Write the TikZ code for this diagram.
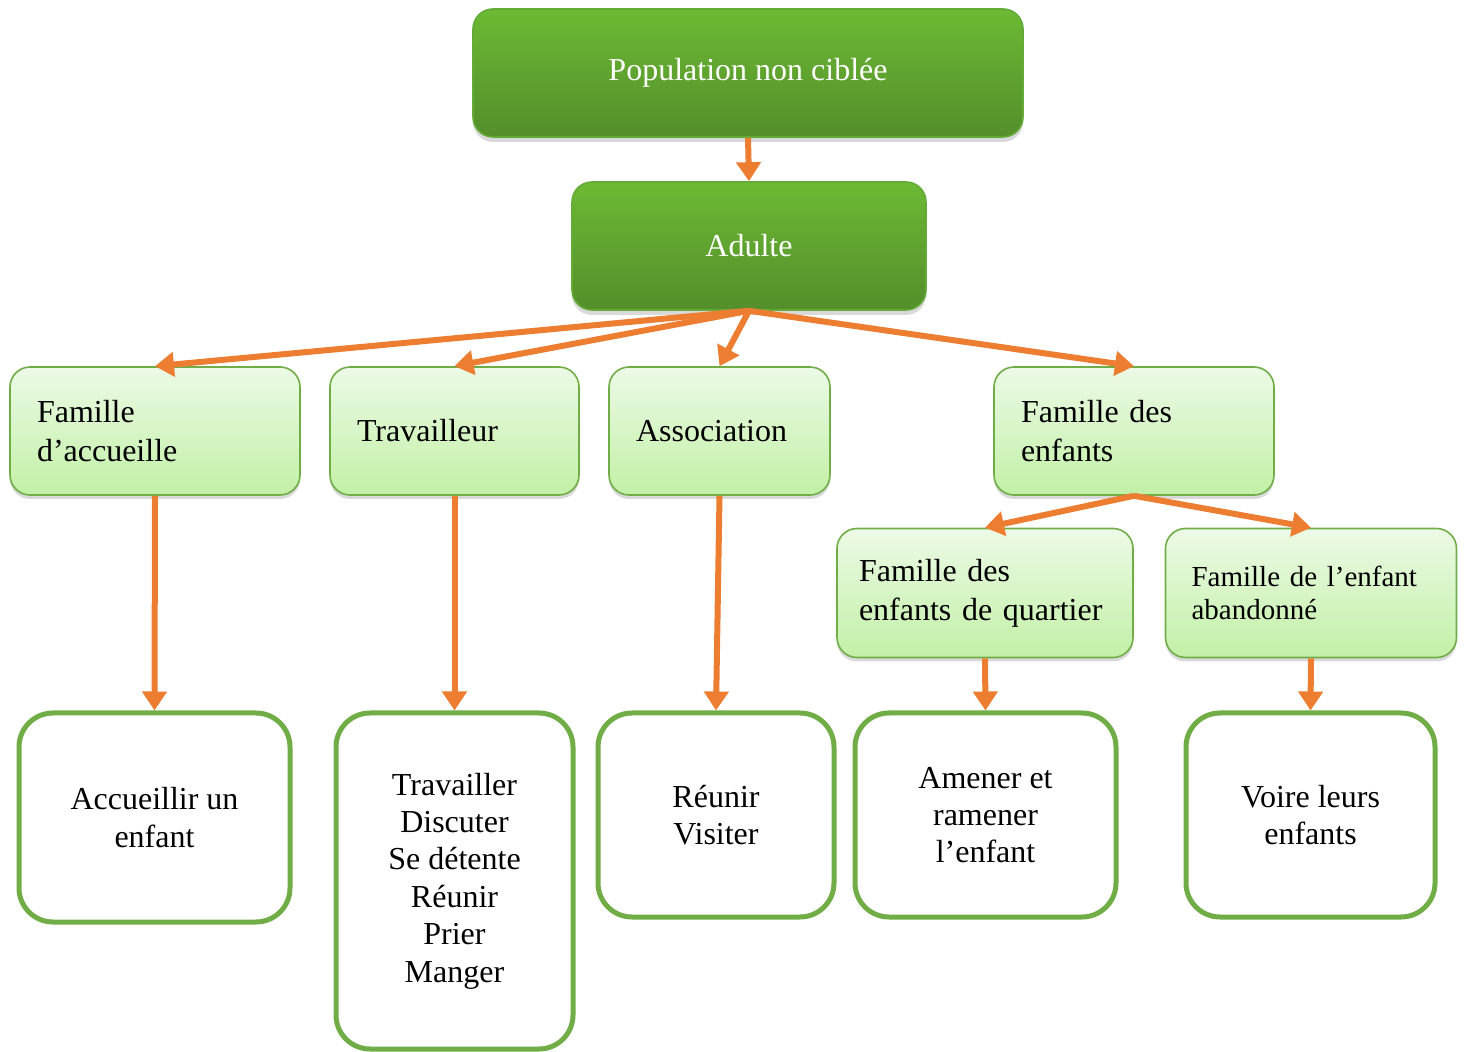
\documentclass[tikz,border=0pt]{standalone}
\usepackage{fontspec}
\setmainfont{Liberation Serif}
\usetikzlibrary{arrows.meta,shadows}

\definecolor{grtop}{RGB}{108,186,52}
\definecolor{grbot}{RGB}{84,142,43}
\definecolor{grline}{RGB}{100,170,55}
\definecolor{lttop}{RGB}{236,250,230}
\definecolor{ltbot}{RGB}{194,240,166}
\definecolor{ltline}{RGB}{112,173,71}
\definecolor{arrorange}{RGB}{237,125,49}

\begin{document}
\begin{tikzpicture}[x=0.5pt,y=-0.5pt,
  darkbox/.style={rounded corners=10pt, draw=grline, line width=0.8pt,
    top color=grtop, bottom color=grbot, text=white,
    font=\fontsize{16}{19}\selectfont, minimum height=64pt,
    drop shadow={opacity=0.3, shadow xshift=0pt, shadow yshift=-2.5pt}},
  lightbox/.style={rounded corners=10pt, draw=ltline, line width=0.8pt,
    top color=lttop, bottom color=ltbot, align=left, inner xsep=13.5pt,
    font=\fontsize{16}{19.5}\selectfont, minimum height=64pt,
    drop shadow={opacity=0.3, shadow xshift=0pt, shadow yshift=-2pt}},
  whitebox/.style={rounded corners=17pt, draw=ltline, line width=2.5pt,
    fill=white, align=center, font=\fontsize{16}{18.7}\selectfont},
  flow/.style={draw=arrorange, line width=3pt,
    -{Triangle[length=9.5pt,width=12pt]}}]

\useasboundingbox (0,0) rectangle (1467,1052);

% Top levels
\node[darkbox, minimum width=275pt] (pop) at (748,73) {Population non ciblée};
\node[darkbox, minimum width=177pt] (adulte) at (749,246) {Adulte};

% Second level
\node[lightbox, text width=118pt] (accueil) at (155,431) {Famille\\d’accueille};
\node[lightbox, text width=97.5pt] (trav) at (454.5,431) {Travailleur};
\node[lightbox, text width=83.5pt] (assoc) at (719.5,431) {Association};
\node[lightbox, text width=113pt] (famenf) at (1134,431) {Famille des\\enfants};

% Under Famille des enfants
\node[lightbox, text width=126pt, inner xsep=11pt, minimum height=64.5pt] (quartier) at (985,593)
  {Famille des\\enfants de quartier};
\node[lightbox, text width=119.5pt, inner xsep=13pt, minimum height=64.5pt,
  font=\fontsize{14.5}{16.5}\selectfont] (aband) at (1311,593)
  {Famille de l’enfant\\abandonné};

% Activities
\node[whitebox, minimum width=135.5pt, minimum height=104.5pt] (accact) at (154.5,817.5)
  {Accueillir un\\enfant};
\node[whitebox, minimum width=118.5pt, minimum height=168pt] (travact) at (454.5,881)
  {Travailler\\Discuter\\Se détente\\Réunir\\Prier\\Manger};
\node[whitebox, minimum width=118pt, minimum height=102pt] (assocact) at (716,815)
  {Réunir\\Visiter};
\node[whitebox, minimum width=130.5pt, minimum height=102pt] (quartact) at (985.5,815)
  {Amener et\\ramener\\l’enfant};
\node[whitebox, minimum width=124.5pt, minimum height=102pt] (abandact) at (1310.5,815)
  {Voire leurs\\enfants};

% Arrows
\draw[flow] (pop.south) -- (adulte.north);
\draw[flow] (adulte.south) -- (accueil.north);
\draw[flow] (adulte.south) -- (trav.north);
\draw[flow] (adulte.south) -- (assoc.north);
\draw[flow] (adulte.south) -- (famenf.north);
\draw[flow] (famenf.south) -- (quartier.north);
\draw[flow] (famenf.south) -- (aband.north);
\draw[flow] (accueil.south) -- (accact.north);
\draw[flow] (trav.south) -- (travact.north);
\draw[flow] (assoc.south) -- (assocact.north);
\draw[flow] (quartier.south) -- (quartact.north);
\draw[flow] (aband.south) -- (abandact.north);

\end{tikzpicture}
\end{document}
